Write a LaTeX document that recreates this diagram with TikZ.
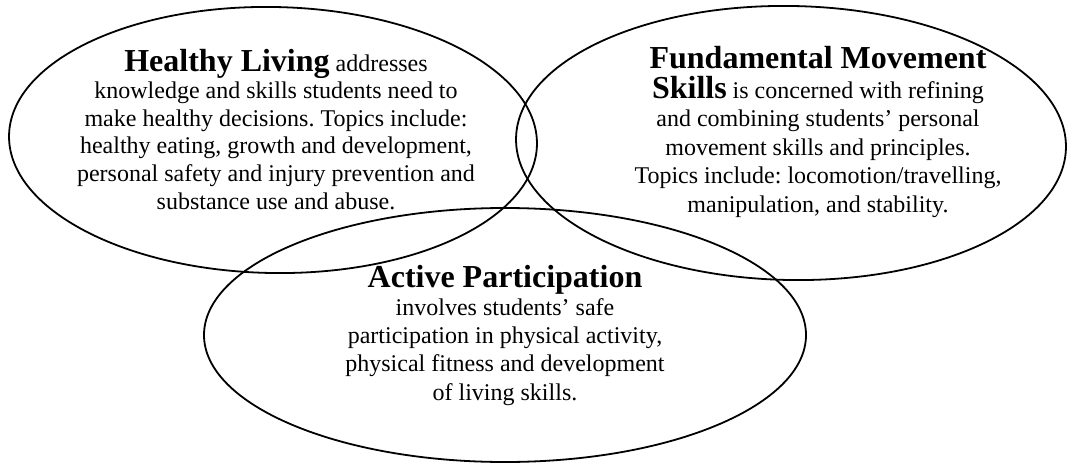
\documentclass[tikz,border=0pt]{standalone}
\usepackage{fontspec}
\setmainfont{Liberation Serif}
\frenchspacing
% bold lead-in words of each strand
\newcommand\strandname[1]{{\fontsize{32}{28}\selectfont\bfseries #1}}
\begin{document}
\begin{tikzpicture}[x=1pt,y=-1pt,
  ring/.style={line width=1.8pt},
  blurb/.style={align=center,inner sep=0pt,anchor=base},
]
\useasboundingbox (0,0) rectangle (1068,463);

% the three overlapping strands
\draw[ring,rotate around={-1:(273,140)}] (273,140) ellipse [x radius=264, y radius=133];
\draw[ring,rotate around={-1:(791,143)}] (791,143) ellipse [x radius=275, y radius=137];
\draw[ring] (505,335) ellipse [x radius=301, y radius=127];

% strand descriptions (each node sits on the baseline of its last line)
\node[blurb,font=\fontsize{24}{27.6}\selectfont] (living) at (276,209)
  {\strandname{Healthy Living} addresses\\
   knowledge and skills students need to\\
   make healthy decisions. Topics include:\\
   healthy eating, growth and development,\\
   personal safety and injury prevention and\\
   substance use and abuse.};

\node[blurb,font=\fontsize{24}{28.4}\selectfont] (movement) at (818,212)
  {\strandname{Fundamental Movement}\\[1.6pt]
   \strandname{Skills} is concerned with refining\\
   and combining students’ personal\\
   movement skills and principles.\\
   Topics include: locomotion/travelling,\\
   manipulation, and stability.};

\node[blurb,font=\fontsize{24}{28.2}\selectfont] (active) at (505,400)
  {\strandname{Active Participation}\\
   involves students’ safe\\
   participation in physical activity,\\
   physical fitness and development\\
   of living skills.};
\end{tikzpicture}
\end{document}
